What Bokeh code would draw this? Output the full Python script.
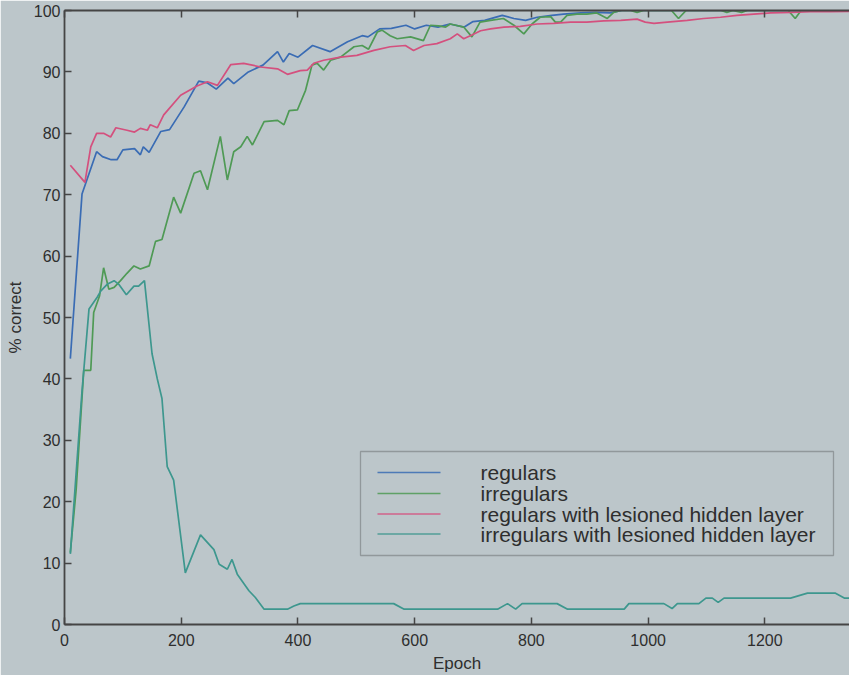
from bokeh.plotting import figure
from bokeh.models import Range1d, LinearAxis, FixedTicker, BoxAnnotation, Label
from bokeh.embed import file_html
from bokeh.resources import INLINE

BG = "#bcc6ca"
INK = "#2e2e2e"
AXIS = "#454545"
FONT = "Liberation Sans"

# % correct per epoch, four training conditions
reg_epoch = [10, 30, 55, 65, 80, 90, 100, 120, 130, 135, 145, 165, 180, 205, 230,
             245, 260, 280, 290, 315, 340, 365, 375, 385, 400, 425, 455, 485, 510,
             520, 540, 560, 585, 600, 620, 640, 660, 685, 700, 720, 750, 770, 790,
             810, 835, 855, 885, 910, 935, 955, 1000, 1100, 1200, 1300, 1360]
reg_pct = [43.3, 70.1, 77.0, 76.2, 75.7, 75.7, 77.3, 77.5, 76.5, 77.8, 76.9, 80.3,
           80.6, 84.3, 88.5, 88.2, 87.2, 89.0, 88.1, 90.0, 91.1, 93.3, 91.6, 93.0,
           92.4, 94.3, 93.3, 94.9, 95.9, 95.7, 97.0, 97.1, 97.6, 97.0, 97.6, 97.3,
           97.8, 97.3, 98.2, 98.4, 99.2, 98.7, 98.4, 98.9, 99.2, 99.4, 99.6, 99.7,
           99.6, 100, 100, 100, 100, 100, 100]

irr_epoch = [10, 20, 33, 45, 50, 60, 67, 76, 85, 96, 107, 119, 130, 145, 156, 167,
             187, 199, 222, 233, 245, 267, 279, 290, 302, 313, 322, 342, 365, 376,
             385, 399, 413, 424, 433, 444, 456, 473, 496, 510, 521, 536, 544, 558,
             570, 593, 615, 627, 641, 653, 661, 684, 698, 712, 730, 752, 770, 787,
             801, 815, 833, 841, 850, 861, 878, 895, 912, 930, 941, 953, 970, 981,
             992, 1040, 1052, 1065, 1125, 1135, 1145, 1160, 1170, 1240, 1252, 1262,
             1360]
irr_pct = [11.7, 22.0, 41.4, 41.4, 50.8, 53.5, 58.1, 54.6, 54.9, 56.0, 57.2, 58.4,
           57.9, 58.4, 62.4, 62.7, 69.6, 67.0, 73.5, 73.9, 70.8, 79.5, 72.4, 77.0,
           77.8, 79.5, 78.1, 81.9, 82.1, 81.4, 83.7, 83.8, 87.0, 91.1, 91.4, 90.3,
           91.9, 92.4, 94.1, 94.3, 93.7, 96.5, 96.8, 95.9, 95.4, 95.7, 95.1, 97.6,
           97.5, 97.3, 97.8, 97.3, 95.7, 98.1, 98.4, 98.7, 97.6, 96.2, 97.8, 98.9,
           99.0, 98.1, 98.1, 99.2, 99.4, 99.4, 99.6, 98.7, 99.7, 100, 100, 99.7,
           100, 100, 98.7, 100, 100, 99.7, 100, 99.7, 100, 100, 98.7, 100, 100]

reg_les_epoch = [10, 35, 45, 55, 67, 79, 88, 107, 120, 130, 142, 147, 159, 170, 199,
                 227, 245, 262, 285, 307, 336, 365, 382, 404, 416, 427, 444, 473,
                 501, 530, 558, 584, 598, 616, 638, 661, 673, 684, 698, 713, 730,
                 753, 781, 810, 838, 867, 895, 924, 953, 981, 995, 1010, 1033, 1067,
                 1095, 1124, 1152, 1181, 1210, 1244, 1278, 1312, 1360]
reg_les_pct = [74.8, 72.0, 77.8, 80.0, 80.0, 79.4, 80.9, 80.5, 80.2, 80.8, 80.5,
               81.4, 80.9, 83.0, 86.2, 87.7, 88.4, 87.8, 91.2, 91.4, 90.8, 90.5,
               89.6, 90.2, 90.3, 91.4, 91.9, 92.4, 92.7, 93.5, 94.1, 94.3, 93.5,
               94.3, 94.6, 95.4, 96.2, 95.4, 96.0, 96.7, 97.0, 97.3, 97.4, 97.8,
               97.9, 98.1, 98.1, 98.3, 98.4, 98.6, 98.1, 97.9, 98.1, 98.4, 98.7,
               98.9, 99.2, 99.4, 99.6, 99.7, 99.8, 99.8, 99.9]

irr_les_epoch = [10, 30, 42, 56, 62, 73, 85, 93, 106, 119, 127, 137, 150, 159, 167,
                 176, 187, 207, 233, 256, 265, 279, 287, 296, 316, 327, 342, 382,
                 393, 404, 564, 582, 742, 759, 773, 784, 844, 862, 959, 967, 1027,
                 1041, 1050, 1087, 1099, 1110, 1120, 1130, 1244, 1273, 1321, 1336,
                 1360]
irr_les_pct = [11.5, 38.0, 51.4, 53.3, 54.3, 55.4, 56.0, 55.4, 53.7, 55.1, 55.1,
               56.0, 44.1, 40.0, 36.8, 25.7, 23.5, 8.4, 14.6, 12.2, 9.8, 9.0, 10.6,
               8.2, 5.5, 4.4, 2.5, 2.5, 3.0, 3.4, 3.4, 2.5, 2.5, 3.4, 2.5, 3.4, 3.4,
               2.5, 2.5, 3.4, 3.4, 2.6, 3.4, 3.4, 4.3, 4.3, 3.6, 4.3, 4.3, 5.1, 5.1,
               4.3, 4.3]

series_names = ["regulars", "irregulars", "regulars with lesioned hidden layer",
                "irregulars with lesioned hidden layer"]
series_colors = ["#3a6cb4", "#4f9a55", "#d4507e", "#3d978e"]
series_x = [reg_epoch, irr_epoch, reg_les_epoch, irr_les_epoch]
series_y = [reg_pct, irr_pct, reg_les_pct, irr_les_pct]

x_ticks = [0, 200, 400, 600, 800, 1000, 1200, 1400]
y_ticks = [0, 10, 20, 30, 40, 50, 60, 70, 80, 90, 100]

p = figure(width=849, height=675, output_backend="svg", toolbar_location=None,
           x_range=Range1d(0, 1345), y_range=Range1d(0, 100),
           min_border_left=64, min_border_right=0, min_border_top=10,
           min_border_bottom=48,
           background_fill_color=BG, border_fill_color=BG,
           outline_line_color=None,
           x_axis_label="Epoch", y_axis_label="% correct")
p.grid.visible = False

for xs, ys, color in zip(series_x, series_y, series_colors):
    p.line(xs, ys, line_color=color, line_width=1.7)

# top frame edge with inward ticks, no labels
top = LinearAxis()
p.add_layout(top, "above")

for ax in (p.xaxis[0], top):
    ax.ticker = FixedTicker(ticks=x_ticks)
for ax in p.yaxis:
    ax.ticker = FixedTicker(ticks=y_ticks)

for ax in list(p.xaxis) + list(p.yaxis):
    ax.axis_line_color = AXIS
    ax.axis_line_width = 1.8
    ax.major_tick_line_color = AXIS
    ax.major_tick_line_width = 1.5
    ax.major_tick_in = 7
    ax.major_tick_out = 0
    ax.minor_tick_line_color = None
    ax.major_label_text_font = FONT
    ax.major_label_text_font_size = "16px"
    ax.major_label_text_color = INK
    ax.axis_label_text_font = FONT
    ax.axis_label_text_font_size = "17px"
    ax.axis_label_text_font_style = "normal"
    ax.axis_label_text_color = INK

p.xaxis[0].major_label_standoff = 2
p.xaxis[0].axis_label_standoff = 3
p.yaxis[0].major_label_standoff = 4
p.yaxis[0].axis_label_standoff = 6
top.major_label_text_font_size = "1px"
top.major_label_text_color = None
top.major_label_standoff = 0
top.axis_label = None

# legend box, in screen units measured from the frame's lower-left corner
LEG_LEFT, LEG_RIGHT, LEG_BOTTOM, LEG_TOP = 296, 769, 69, 173
ROW_Y = [152, 131, 110.5, 90.5]
SWATCH_L, SWATCH_R, TEXT_X = 313, 376, 416

p.add_layout(BoxAnnotation(left=LEG_LEFT, right=LEG_RIGHT, bottom=LEG_BOTTOM,
                           top=LEG_TOP, left_units="screen", right_units="screen",
                           bottom_units="screen", top_units="screen",
                           fill_color=None, line_color=INK, line_width=1.3))
for name, color, ry in zip(series_names, series_colors, ROW_Y):
    p.add_layout(BoxAnnotation(left=SWATCH_L, right=SWATCH_R, bottom=ry - 0.8,
                               top=ry + 0.8, left_units="screen",
                               right_units="screen", bottom_units="screen",
                               top_units="screen", fill_color=color,
                               fill_alpha=0.85, line_color=None))
    p.add_layout(Label(x=TEXT_X, y=ry, x_units="screen", y_units="screen",
                       text=name, text_font=FONT, text_font_size="21px",
                       text_color=INK, text_baseline="middle",
                       text_align="left"))

open("out.html", "w").write(file_html(p, INLINE))
